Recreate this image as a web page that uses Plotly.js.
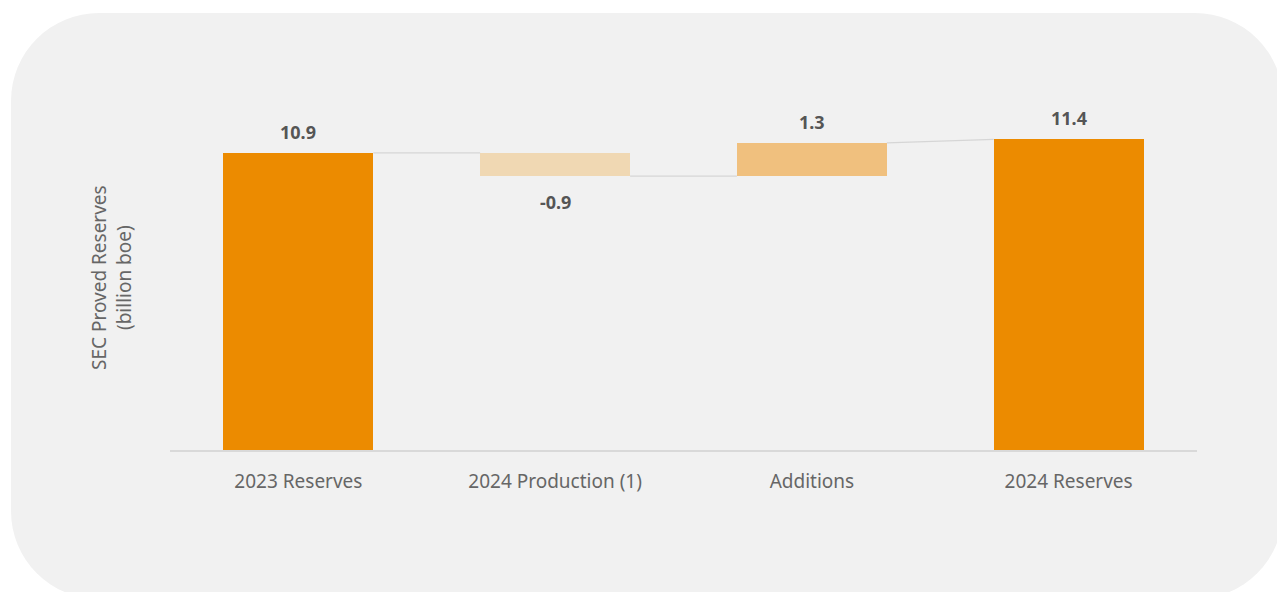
<!DOCTYPE html>
<html>
<head>
<meta charset="utf-8">
<script src="https://cdn.plot.ly/plotly-3.0.1.min.js"></script>
<style>
  html, body { margin: 0; padding: 0; background: #ffffff; }
  #card { position: absolute; left: 11px; top: 13px; width: 1272px; height: 586px;
          background: #f1f1f1; border-radius: 88px; }
  #chart { position: absolute; left: 0; top: 0; width: 1277px; height: 592px; }
</style>
</head>
<body>
<div id="card"></div>
<div id="chart"></div>
<script>
// ---- data ----
const categories = ["2023 Reserves", "2024 Production (1)", "Additions", "2024 Reserves"];
const measures   = ["absolute", "relative", "relative", "absolute"];
const values     = [10.9, -0.85, 1.22, 11.4];
const labels     = ["10.9", "-0.9", "1.3", "11.4"];
const barColors  = ["#ec8b00", "#f0d8b3", "#f0c07e", "#ec8b00"];

// ---- build bases from running total ----
const bases = [], heights = [], ends = [];
let running = 0;
values.forEach((v, i) => {
  if (measures[i] === "absolute") {
    bases.push(0); heights.push(v); running = v; ends.push(v);
  } else {
    bases.push(running); heights.push(v); running += v; ends.push(running);
  }
});

const barWidth = 0.584;
const traces = [{
  type: "bar",
  x: categories.map((_, i) => i),
  y: heights,
  base: bases,
  width: barWidth,
  marker: { color: barColors, line: { width: 0 } },
  hoverinfo: "skip",
  showlegend: false
}];

// connectors: from end level of bar i to start level of bar i+1
for (let i = 0; i < categories.length - 1; i++) {
  const nextLevel = measures[i + 1] === "absolute" ? values[i + 1] : ends[i];
  traces.push({
    type: "scatter", mode: "lines",
    x: [i + barWidth / 2, i + 1 - barWidth / 2],
    y: [ends[i], nextLevel],
    line: { color: "#d6d6d6", width: 1.2 },
    hoverinfo: "skip", showlegend: false
  });
}

// value labels
const valueAnnotations = categories.map((_, i) => {
  const neg = values[i] < 0;
  return {
    x: i, y: ends[i], xref: "x", yref: "y",
    text: labels[i], showarrow: false,
    xanchor: "center", yanchor: neg ? "top" : "bottom",
    yshift: neg ? -12 : 7,
    font: { family: "Noto Sans", size: 18, color: "#555555", weight: "bold" }
  };
});

const layout = {
  width: 1277, height: 592,
  margin: { l: 170, r: 80, t: 123, b: 142 },
  paper_bgcolor: "rgba(0,0,0,0)",
  plot_bgcolor: "rgba(0,0,0,0)",
  font: { family: "Noto Sans", color: "#666666" },
  xaxis: {
    range: [-0.5, 3.5],
    tickmode: "array",
    tickvals: categories.map((_, i) => i),
    ticktext: categories,
    tickfont: { size: 19, color: "#666666" },
    ticks: "outside", ticklen: 14, tickcolor: "rgba(0,0,0,0)",
    showline: true, linecolor: "#d9d9d9", linewidth: 1.5,
    showgrid: false, zeroline: false, fixedrange: true
  },
  yaxis: {
    range: [0, 12],
    showticklabels: false, showgrid: false, zeroline: false, showline: false,
    fixedrange: true
  },
  annotations: valueAnnotations.concat([{
    text: "SEC Proved Reserves<br>(billion boe)",
    xref: "paper", yref: "paper",
    x: (111 - 170) / 1027, y: (450 - 278) / 327,
    textangle: -90, showarrow: false,
    font: { family: "Noto Sans", size: 19, color: "#666666" },
    xanchor: "center", yanchor: "middle"
  }]),
  bargap: 0
};

Plotly.newPlot("chart", traces, layout, { displayModeBar: false, staticPlot: true });
</script>
</body>
</html>
